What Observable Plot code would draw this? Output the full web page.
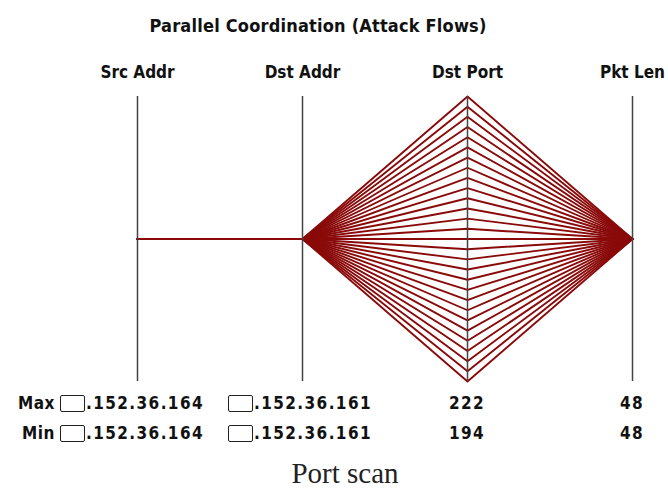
<!DOCTYPE html>
<html><head><meta charset="utf-8">
<script src="https://cdn.jsdelivr.net/npm/d3@7"></script>
<script src="https://cdn.jsdelivr.net/npm/@observablehq/plot@0.6"></script>
<style>
body{margin:0;background:#fff;}
#wrap{position:relative;width:668px;height:495px;overflow:hidden;background:#fff;
  font-family:"DejaVu Sans Condensed","DejaVu Sans",sans-serif;font-weight:bold;color:#111;}
#wrap svg{position:absolute;left:0;top:0;}
.t{position:absolute;white-space:nowrap;line-height:1;}
#title{left:318px;transform:translateX(-50%);top:17px;font-size:18px;letter-spacing:0.2px;}
.row{font-size:17px;letter-spacing:1.4px;}
.box{display:inline-block;width:25px;height:17px;border:1.5px solid #222;border-radius:2px;vertical-align:-3px;box-sizing:border-box;margin-right:1px;}
.c{transform:translateX(-50%);}
#caption{left:345px;top:459px;font-family:"Liberation Serif","DejaVu Serif",serif;font-weight:normal;font-size:29px;transform:translateX(-50%);color:#222;}
</style></head><body>
<div id="wrap"></div>
<script>
// ---- data ----
const axes = ["Src Addr", "Dst Addr", "Dst Port", "Pkt Len"];
const srcHost = [164];          // last octet of source address (□.152.36.164)
const dstHost = [161];          // last octet of destination address (□.152.36.161)
const dstPorts = [194,195,196,197,198,199,200,201,202,203,204,205,206,207,208,
                  209,210,211,212,213,214,215,216,217,218,219,220,221,222];
const pktLens = [48];
const maxLabels = [".152.36.164", ".152.36.161", "222", "48"];
const minLabels = [".152.36.164", ".152.36.161", "194", "48"];
const title = "Parallel Coordination (Attack Flows)";
const caption = "Port scan";

// ---- build flows (one per scanned port) ----
const flows = dstPorts.map((p, i) => ({id: i, "Src Addr": srcHost[0], "Dst Addr": dstHost[0], "Dst Port": p, "Pkt Len": pktLens[0]}));
const ext = Object.fromEntries(axes.map(a => [a, d3.extent(flows, f => f[a])]));
const norm = (a, v) => ext[a][0] === ext[a][1] ? 0.5 : (v - ext[a][0]) / (ext[a][1] - ext[a][0]);
const rows = flows.flatMap(f => axes.map(a => ({flow: f.id, axis: a, v: norm(a, f[a])})));

const chart = Plot.plot({
  width: 668, height: 495,
  marginLeft: 136, marginRight: 36, marginTop: 96, marginBottom: 114,
  style: {background: "transparent", fontFamily: "'DejaVu Sans Condensed','DejaVu Sans',sans-serif"},
  x: {type: "point", domain: axes, label: null, padding: 0},
  y: {domain: [0, 1], axis: null},
  marks: [
    Plot.line(rows, {x: "axis", y: "v", z: "flow", stroke: "#8a0a0a", strokeWidth: 1.9, curve: "linear"}),
    Plot.ruleX(axes, {x: d => d, y1: () => 0, y2: () => 1, stroke: "#444", strokeWidth: 1.5}),
    Plot.axisX({anchor: "top", tickSize: 0, tickPadding: 19, fontSize: 17, fontWeight: "bold", fill: "#111", label: null})
  ]
});
const wrap = document.getElementById("wrap");
wrap.appendChild(chart);

function addText(html, cls, style) {
  const d = document.createElement("div");
  d.className = "t " + cls; d.innerHTML = html; Object.assign(d.style, style || {});
  wrap.appendChild(d); return d;
}
const tEl = addText(title, "", {}); tEl.id = "title";
const xs = axes.map(a => chart.scale("x").apply(a));
[["Max", maxLabels, 395], ["Min", minLabels, 425]].forEach(([name, labs, top]) => {
  addText(name, "row", {left: name === "Max" ? "18px" : "22px", top: top + "px", letterSpacing: "0.5px"});
  addText('<span class="box"></span>' + labs[0], "row", {left: "60px", top: top + "px"});
  addText('<span class="box"></span>' + labs[1], "row", {left: "228px", top: top + "px"});
  addText(labs[2], "row c", {left: xs[2] + "px", top: top + "px"});
  addText(labs[3], "row c", {left: xs[3] + "px", top: top + "px"});
});
const cEl = addText(caption, "", {}); cEl.id = "caption";
</script>
</body></html>
